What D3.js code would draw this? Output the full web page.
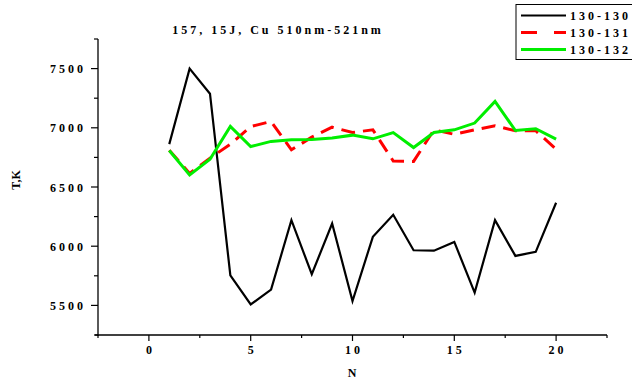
<!DOCTYPE html>
<html>
<head>
<meta charset="utf-8">
<script src="https://cdn.jsdelivr.net/npm/d3@7"></script>
<style>
  html, body { margin: 0; padding: 0; background: #fff; }
  svg { display: block; }
  text { font-family: "Liberation Serif", "Times New Roman", serif; font-weight: bold; fill: #000; }
</style>
</head>
<body>
<svg id="chart" width="632" height="382"></svg>
<script>
// Shot numbers along the x axis
const shots = [1, 2, 3, 4, 5, 6, 7, 8, 9, 10, 11, 12, 13, 14, 15, 16, 17, 18, 19, 20];

// Temperature (K) per line pair
const t130_130 = [6862, 7500, 7288, 5754, 5508, 5633, 6220, 5763, 6192, 5537,
                  6079, 6265, 5966, 5962, 6036, 5608, 6220, 5918, 5952, 6367];
const t130_131 = [6810, 6615, 6743, 6862, 7010, 7054, 6814, 6921, 7005, 6960,
                  6983, 6720, 6716, 6983, 6945, 6983, 7017, 6975, 6975, 6820];
const t130_132 = [6808, 6602, 6735, 7011, 6842, 6885, 6900, 6902, 6913, 6938,
                  6907, 6960, 6833, 6960, 6983, 7040, 7223, 6977, 6992, 6904];

const seriesNames = ["130-130", "130-131", "130-132"];
const xTicks = [0, 5, 10, 15, 20];
const yTicks = [5500, 6000, 6500, 7000, 7500];
const titleText = "157, 15J, Cu 510nm-521nm";

const series = [
  { name: seriesNames[0], values: t130_130, color: "#000000", width: 2.2, dash: null },
  { name: seriesNames[1], values: t130_131, color: "#ff0000", width: 3, dash: "14,8" },
  { name: seriesNames[2], values: t130_132, color: "#00ee00", width: 3, dash: null }
];

const svg = d3.select("#chart");
const plotL = 98, plotR = 607, plotT = 39, plotB = 335;

const x = d3.scaleLinear().domain([-2.5, 22.5]).range([plotL, plotR]);
const y = d3.scaleLinear().domain([5250, 7750]).range([plotB, plotT]);

// Axes: major ticks labelled, minor ticks halfway between
const minorX = d3.range(-2.5, 22.6, 5);
const minorY = d3.range(5250, 7751, 500);

const gx = svg.append("g").attr("transform", `translate(0,${plotB})`);
gx.append("line").attr("x1", plotL - 3).attr("x2", plotR).attr("stroke", "#000").attr("stroke-width", 1.3);
gx.selectAll(".major").data(xTicks).join("line")
  .attr("x1", d => x(d)).attr("x2", d => x(d)).attr("y1", 0).attr("y2", 6)
  .attr("stroke", "#000").attr("stroke-width", 1.2);
gx.selectAll(".minor").data(minorX).join("line")
  .attr("x1", d => x(d)).attr("x2", d => x(d)).attr("y1", 0).attr("y2", 3)
  .attr("stroke", "#000").attr("stroke-width", 1.2);
gx.selectAll(".lbl").data(xTicks).join("text")
  .attr("x", d => x(d) + 1.5).attr("y", 19)
  .attr("text-anchor", "middle").attr("font-size", 12)
  .attr("letter-spacing", 3)
  .text(d => d);

const gy = svg.append("g").attr("transform", `translate(${plotL},0)`);
gy.append("line").attr("y1", plotT).attr("y2", plotB + 1).attr("stroke", "#000").attr("stroke-width", 1.3);
gy.selectAll(".major").data(yTicks).join("line")
  .attr("y1", d => y(d)).attr("y2", d => y(d)).attr("x1", 0).attr("x2", -7)
  .attr("stroke", "#000").attr("stroke-width", 1.2);
gy.selectAll(".minor").data(minorY).join("line")
  .attr("y1", d => y(d)).attr("y2", d => y(d)).attr("x1", 0).attr("x2", -4)
  .attr("stroke", "#000").attr("stroke-width", 1.2);
gy.selectAll(".lbl").data(yTicks).join("text")
  .attr("x", -12).attr("y", d => y(d) + 4.5)
  .attr("text-anchor", "end").attr("font-size", 12)
  .attr("letter-spacing", 3)
  .text(d => d);

// Axis titles and chart title
svg.append("text").attr("x", 352).attr("y", 377)
  .attr("text-anchor", "middle").attr("font-size", 12).text("N");
svg.append("text").attr("transform", "translate(20,180) rotate(-90)")
  .attr("text-anchor", "middle").attr("font-size", 12).text("T,K");
svg.append("text").attr("x", 278).attr("y", 34)
  .attr("text-anchor", "middle").attr("font-size", 12)
  .attr("letter-spacing", 3).text(titleText);

// Series lines
const line = d3.line().x((d, i) => x(shots[i])).y(d => y(d));
series.forEach(s => {
  svg.append("path").datum(s.values)
    .attr("d", line)
    .attr("fill", "none")
    .attr("stroke", s.color)
    .attr("stroke-width", s.width)
    .attr("stroke-linejoin", "miter")
    .attr("stroke-dasharray", s.dash);
});

// Legend box
const lg = svg.append("g");
lg.append("rect").attr("x", 516).attr("y", 4.5).attr("width", 118).attr("height", 55)
  .attr("fill", "#fff").attr("stroke", "#000").attr("stroke-width", 1);
series.forEach((s, i) => {
  const yy = 15.5 + i * 17;
  lg.append("line").attr("x1", 521).attr("x2", 566).attr("y1", yy).attr("y2", yy)
    .attr("stroke", s.color).attr("stroke-width", s.width)
    .attr("stroke-dasharray", s.dash ? "16,17" : null);
  lg.append("text").attr("x", 570).attr("y", yy + 4.5)
    .attr("font-size", 12).attr("letter-spacing", 3).text(s.name);
});
</script>
</body>
</html>
